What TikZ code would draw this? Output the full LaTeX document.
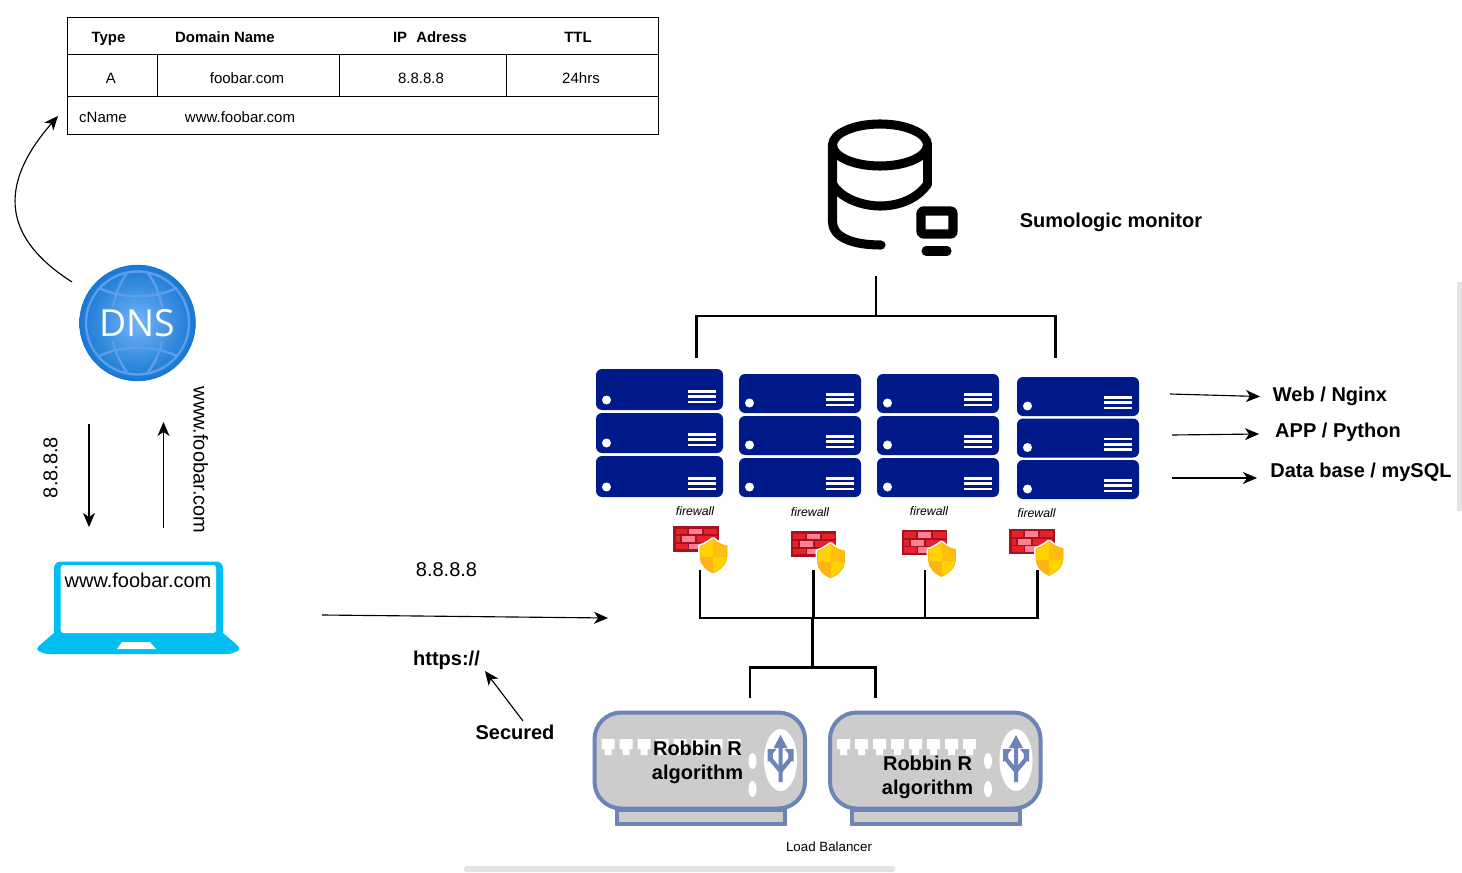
\documentclass[tikz,border=0pt]{standalone}
\usepackage{fontspec}
\setmainfont{Liberation Sans}
\newfontfamily\dnsfont{Open Sans}
\usetikzlibrary{arrows.meta}
\definecolor{srvblue}{HTML}{001A8A}
\definecolor{lbblue}{HTML}{6C84B6}
\definecolor{lbgrey}{HTML}{CCCCCC}
\definecolor{lapcyan}{HTML}{00BEF2}
\definecolor{barcol}{HTML}{E4E4E4}
\definecolor{dnsdark}{HTML}{1878D2}
\definecolor{dnslight}{HTML}{72B4F8}
\definecolor{dnsline}{HTML}{5C9EEC}
\definecolor{wallframe}{HTML}{A3141F}
\definecolor{wallred}{HTML}{E8222C}
\definecolor{wallpink}{HTML}{FF8093}
\definecolor{shieldA}{HTML}{FFD200}
\definecolor{shieldB}{HTML}{FFB414}
\newcommand{\fs}[1]{\fontsize{#1}{#1}\selectfont}
\newcommand{\ShieldPath}{(40,13) .. controls (35,17) and (31,19) .. (27,20) -- (27,31) .. controls (27,38) and (33,44) .. (40,47) .. controls (47,44) and (54,38) .. (54,31) -- (54,20) .. controls (49,19) and (45,17) .. (40,13) -- cycle}
\tikzset{
  txt/.style={inner sep=0pt,outer sep=0pt,anchor=center,align=center,text height=0.72em,text depth=0.21em},
  boldlabel/.style={txt,font=\fs{15}\bfseries,yshift=-3pt},
  plainlabel/.style={txt,font=\fs{15},yshift=-3pt},
  vertlabel/.style={txt,font=\fs{15}},
  headcell/.style={txt,font=\fs{11.2}\bfseries,yshift=-1.75pt},
  cell/.style={txt,font=\fs{11.25},yshift=-1.75pt},
  fwlabel/.style={txt,font=\fs{9.2}\itshape,yshift=-0.9pt},
  arrowline/.style={draw=black,line width=0.85pt,-{Stealth[length=10.5pt,width=9pt,inset=3pt]}},
  busline/.style={draw=black,line width=1.8pt,line cap=butt,line join=miter},
  tableline/.style={draw=black,line width=0.75pt},
  dbstroke/.style={draw=black,line width=6.8pt,line cap=round,line join=round,fill=none},
  dnsgrid/.style={draw=dnsline,line width=1.8pt},
  lbframe/.style={draw=lbblue,line width=3pt,fill=lbgrey},
  lbarm/.style={draw=lbblue,line width=3.2pt,line cap=butt},
}
% server unit: x1 y1 x2 y2
\newcommand{\ServerUnit}[4]{%
  \fill[srvblue,rounded corners=4.5pt] (#1,#2) rectangle (#3,#4);
  \fill[white] ({#1+10.5},{#4-10}) circle[radius=4.5];
  \foreach \dy in {18.5,13.2,8}{\fill[white] ({#3-35.5},{#4-\dy-1.4}) rectangle ({#3-7.5},{#4-\dy+1.4});}
}
% firewall icon: top-left of wall
\newcommand{\FireWall}[2]{%
  \begin{scope}[shift={(#1,#2)}]
    \fill[wallframe] (0,0) rectangle (45.5,25.5);
    \fill[wallred] (2.5,2.5) rectangle (14,8);
    \fill[wallpink] (16,2.5) rectangle (29,8);
    \fill[wallred] (31,2.5) rectangle (44,8);
    \fill[wallred] (2.5,10) rectangle (7,16);
    \fill[wallpink] (9,10) rectangle (22,16);
    \fill[wallred] (24,10) rectangle (44,16);
    \fill[wallred] (2.5,17.5) rectangle (15,23);
    \fill[wallpink] (16,17.5) rectangle (29,23);
    \draw[draw=white,line width=3pt,line join=round] \ShieldPath;
    \begin{scope}
      \clip \ShieldPath;
      \fill[shieldA] (26,12) rectangle (55,48);
      \fill[shieldB] (26,31) rectangle (40,48);
      \fill[shieldB!70!shieldA] (40,12) rectangle (55,31);
    \end{scope}
    \draw[draw=shieldB,line width=0.5pt] \ShieldPath;
  \end{scope}
}
% load balancer: left of outer frame (frame centreline)
\newcommand{\LoadBal}[1]{%
  \begin{scope}[shift={(#1,0)}]
    \draw[lbframe] (22,810) rectangle (190,824);
    \draw[lbframe,rounded corners=20pt] (0,712.5) rectangle (210.5,808.5);
    \foreach \k in {0,...,7}{
      \fill[white] ({7+18*\k},739) -- ({20+18*\k},739) -- ({20+18*\k},749) -- ({17+18*\k},749) -- ({17+18*\k},755) -- ({10+18*\k},755) -- ({10+18*\k},749) -- ({7+18*\k},749) -- cycle;}
    \fill[white] (186,760) ellipse[x radius=16.5,y radius=31];
    \fill[white] (158,761) ellipse[x radius=4,y radius=8];
    \fill[white] (158,789) ellipse[x radius=4,y radius=8];
    \fill[lbblue] (186,735) -- (193,748) -- (188,748) -- (188,782) -- (184,782) -- (184,748) -- (179,748) -- cycle;
    \draw[lbarm] (186,771) -- (176,759) -- (176,753);
    \draw[lbarm] (186,771) -- (196,759) -- (196,753);
    \fill[lbblue] (173,749) -- (182,749) -- (178,754) -- (178,758) -- (173,762) -- cycle;
    \fill[lbblue] (199,749) -- (190,749) -- (194,754) -- (194,758) -- (199,762) -- cycle;
  \end{scope}
}
\begin{document}
\begin{tikzpicture}[x=0.75pt,y=-0.75pt]
\useasboundingbox (0,0) rectangle (1462,873);
\fill[white] (0,0) rectangle (1462,873);

% scrollbars
\fill[barcol,rounded corners=2pt] (464,866) rectangle (895,872);
\fill[barcol] (1457,282) rectangle (1462,511);

% DNS table
\draw[tableline] (67,18) rectangle (658,135);
\draw[tableline] (67,55) -- (658,55);
\draw[tableline] (67,97) -- (658,97);
\draw[tableline] (157,55) -- (157,97);
\draw[tableline] (339,55) -- (339,97);
\draw[tableline] (506,55) -- (506,97);
\node[headcell] (hType) at (108.5,37) {Type};
\node[headcell] (hDomain) at (225,37) {Domain Name};
\node[headcell] (hIP) at (430,37) {IP\hspace{5pt}\,Adress};
\node[headcell] (hTTL) at (578,37) {TTL};
\node[cell] (cA) at (111,78) {A};
\node[cell] (cDom) at (247,78) {foobar.com};
\node[cell] (cIP) at (421,78) {8.8.8.8};
\node[cell] (cTTL) at (581,78) {24hrs};
\node[cell] (cCN) at (103,117) {cName};
\node[cell] (cWWW) at (240,117) {www.foobar.com};

% DNS globe
\shade[inner color=dnslight,outer color=dnsdark] (137.5,323) circle[radius=58];
\draw[draw=dnsdark,line width=1pt] (137.5,323) circle[radius=57.5];
\draw[dnsgrid] (137.5,323) circle[radius=51.5];
\draw[dnsgrid] (99,288) .. controls (122,299) and (153,299) .. (177,288);
\draw[dnsgrid] (99,356) .. controls (122,345) and (153,345) .. (177,356);
\draw[dnsgrid] (128,272) .. controls (120,282) and (115,295) .. (113,307);
\draw[dnsgrid] (147,272) .. controls (155,282) and (160,295) .. (162,307);
\draw[dnsgrid] (113,341) .. controls (115,352) and (120,363) .. (127,372);
\draw[dnsgrid] (162,341) .. controls (160,352) and (155,363) .. (148,372);
\node[txt,text=white,font=\dnsfont\fs{28},yshift=-7.7pt] (dns) at (137.5,323) {DNS};

% laptop
\fill[lapcyan,rounded corners=5pt] (54,561.5) -- (223,561.5) -- (223,640) -- (54,640) -- cycle;
\fill[lapcyan] (54,633) -- (223,633) -- (236,644) .. controls (241,648) and (240,651) .. (235,652) .. controls (232,654) and (228,654) .. (225,654) -- (52,654) .. controls (48,654) and (44,654) .. (41,652) .. controls (36,651) and (36,648) .. (41,644) -- cycle;
\fill[white,rounded corners=2pt] (60.7,565) rectangle (216,633);
\fill[white] (122,642) -- (150,642) -- (156,649) -- (117,649) -- cycle;
\node[plainlabel] (laptop) at (138,580.5) {www.foobar.com};

% database monitor icon
\draw[dbstroke] (880,145) ellipse[x radius=47.5,y radius=21];
\draw[dbstroke] (832.5,145) -- (832.5,222) .. controls (832.5,236) and (850,245) .. (881,245);
\draw[dbstroke] (927.5,145) -- (927.5,184);
\draw[dbstroke] (832.5,184) .. controls (842,200) and (865,206) .. (880,206) .. controls (900,206) and (918,198) .. (927.5,184);
\draw[dbstroke,rounded corners=1.5pt] (921,211) rectangle (953,234);
\draw[dbstroke] (926,251) -- (947,251);
\node[boldlabel] (sumo) at (1111,220) {Sumologic monitor};

% servers
\ServerUnit{596}{369}{723}{410}
\ServerUnit{596}{413}{723}{453}
\ServerUnit{596}{456}{723}{497}
\ServerUnit{739}{374}{861}{413}
\ServerUnit{739}{416}{861}{455}
\ServerUnit{739}{458}{861}{497}
\ServerUnit{877}{374}{999}{413}
\ServerUnit{877}{416}{999}{455}
\ServerUnit{877}{458}{999}{497}
\ServerUnit{1017}{377}{1139}{416}
\ServerUnit{1017}{418.5}{1139}{457.5}
\ServerUnit{1017}{460}{1139}{499}

% firewalls
\node[fwlabel] (fwl1) at (695,510.5) {firewall};
\node[fwlabel] (fwl2) at (810,511.5) {firewall};
\node[fwlabel] (fwl3) at (929,511) {firewall};
\node[fwlabel] (fwl4) at (1036.5,512.5) {firewall};
\FireWall{673}{526}
\FireWall{790.5}{531}
\FireWall{901.5}{529.5}
\FireWall{1009}{528.5}

% top bus
\coordinate (mon) at (876,276);
\coordinate (topJ) at (876,316);
\coordinate (topL) at (696.5,316);
\coordinate (topR) at (1055.5,316);
\coordinate (srvL) at (696.5,358);
\coordinate (srvR) at (1055.5,358);
\draw[busline] (mon) -- (topJ);
\draw[busline] (srvL) -- (topL) -- (topR) -- (srvR);

% firewall bus
\coordinate (fw1) at (700,570);
\coordinate (fw2) at (813.5,570);
\coordinate (fw3) at (925,570);
\coordinate (fw4) at (1037.5,570);
\coordinate (busA) at (700,618);
\coordinate (busB) at (813.5,618);
\coordinate (busC) at (925,618);
\coordinate (busD) at (1037.5,618);
\coordinate (busM) at (812.5,618);
\coordinate (lbJ) at (812.5,667.5);
\coordinate (lbJL) at (750,667.5);
\coordinate (lbJR) at (875.5,667.5);
\coordinate (lbL) at (750,698);
\coordinate (lbR) at (875.5,698);
\draw[busline] (fw1) -- (busA) -- (busD) -- (fw4);
\draw[busline] (fw2) -- (busB);
\draw[busline] (fw3) -- (busC);
\draw[busline] (busM) -- (lbJ);
\draw[busline] (lbL) -- (lbJL) -- (lbJR) -- (lbR);

% load balancers
\LoadBal{594.5}
\LoadBal{830}
\node[boldlabel] (lb1) at (697.5,748.5) {Robbin R};
\node[boldlabel] (lb1b) at (697.5,772) {algorithm};
\node[boldlabel] (lb2) at (927.5,763.5) {Robbin R};
\node[boldlabel] (lb2b) at (927.5,787) {algorithm};
\node[txt,font=\fs{10},yshift=-1.5pt] (lbname) at (829,846.5) {Load Balancer};

% labels
\node[boldlabel] (web) at (1330,394.5) {Web / Nginx};
\node[boldlabel] (app) at (1338,430.5) {APP / Python};
\node[boldlabel] (dbl) at (1361,470) {Data base / mySQL};
\node[plainlabel] (ipl) at (446.5,569) {8.8.8.8};
\node[boldlabel] (https) at (446.5,658) {https://};
\node[boldlabel] (sec) at (515,732) {Secured};
\node[vertlabel,rotate=90] (ipv) at (54,467.5) {8.8.8.8};
\node[vertlabel,rotate=-90] (wwwv) at (197,460) {www.foobar.com};

% arrow ends
\coordinate (a1s) at (72,282);
\coordinate (a1e) at (58,116);
\coordinate (a2s) at (89,424);
\coordinate (a2e) at (89,527);
\coordinate (a3s) at (163.5,528);
\coordinate (a3e) at (163.5,422);
\coordinate (a4s) at (322,615);
\coordinate (a4e) at (608,618);
\coordinate (a5s) at (523,721);
\coordinate (a5e) at (485,671);
\coordinate (a6s) at (1170,394);
\coordinate (a6e) at (1260,396.5);
\coordinate (a7s) at (1172,435);
\coordinate (a7e) at (1259,434);
\coordinate (a8s) at (1172,478);
\coordinate (a8e) at (1257,478);
\draw[arrowline] (a1s) .. controls (14,245) and (-11,195) .. (a1e);
\draw[arrowline] (a2s) -- (a2e);
\draw[arrowline] (a3s) -- (a3e);
\draw[arrowline] (a4s) -- (a4e);
\draw[arrowline] (a5s) -- (a5e);
\draw[arrowline] (a6s) -- (a6e);
\draw[arrowline] (a7s) -- (a7e);
\draw[arrowline] (a8s) -- (a8e);
\end{tikzpicture}
\end{document}
